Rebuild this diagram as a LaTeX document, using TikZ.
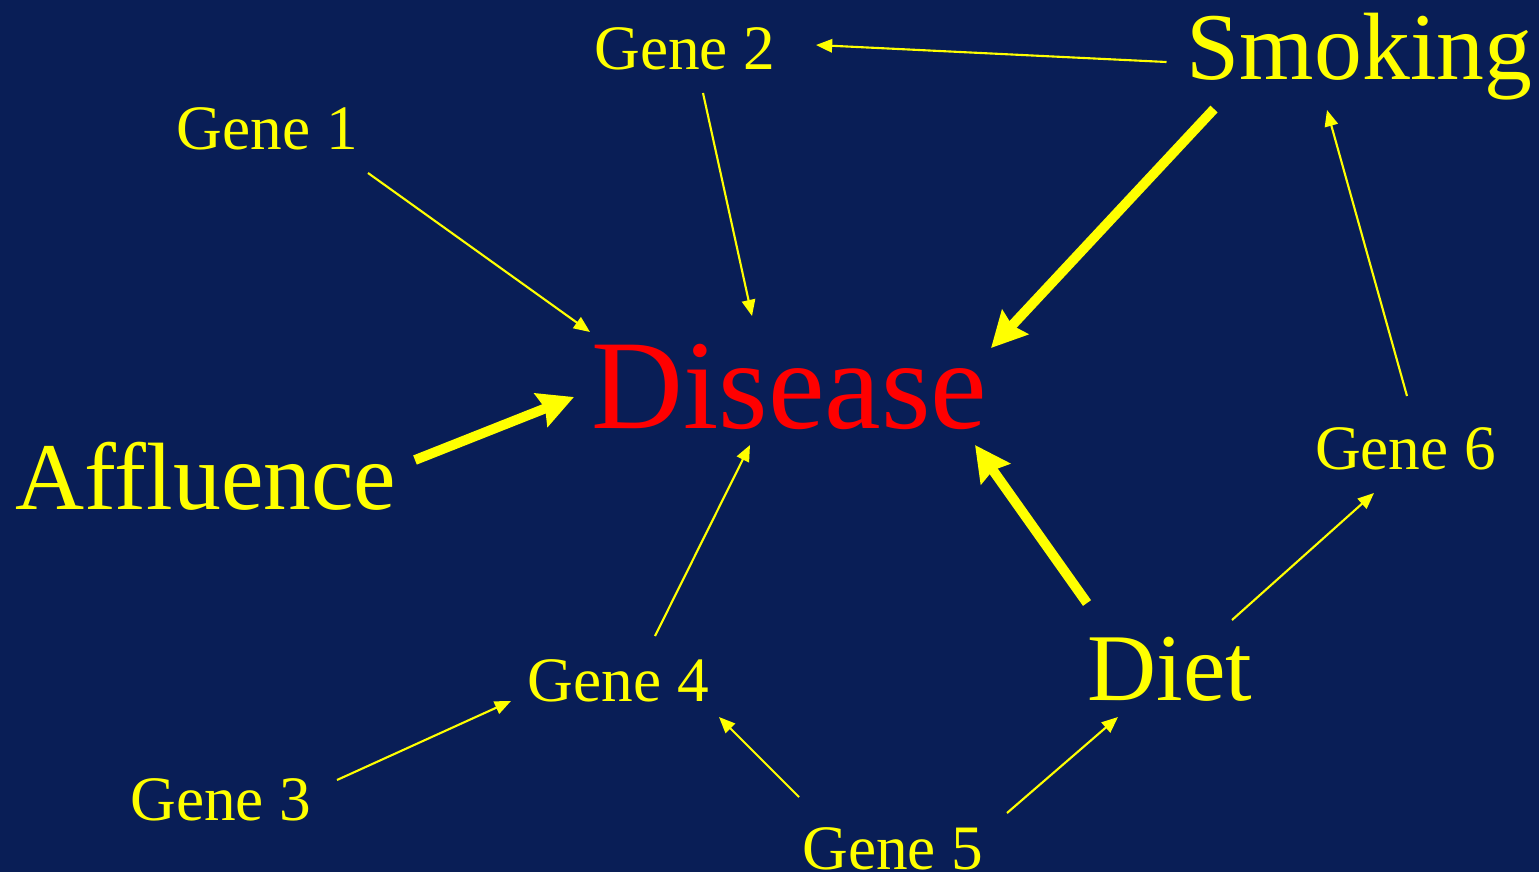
\documentclass[tikz,border=0pt]{standalone}
\usepackage{fontspec}
\setmainfont{Liberation Serif}
\usetikzlibrary{arrows.meta,calc}
\definecolor{slidebg}{RGB}{9,30,86}
\definecolor{causeyel}{RGB}{255,255,0}
\definecolor{diseasered}{RGB}{255,0,0}
\tikzset{
  genelbl/.style={anchor=base, inner sep=0pt, text=causeyel, font=\fontsize{18pt}{22pt}\selectfont},
  factorlbl/.style={anchor=base, inner sep=0pt, text=causeyel, font=\fontsize{27.2pt}{33pt}\selectfont},
  outcomelbl/.style={anchor=base, inner sep=0pt, text=diseasered, font=\fontsize{36.2pt}{43pt}\selectfont},
  thinarr/.style={-{Triangle[length=4.6pt,width=3.8pt]}, line width=0.6pt, causeyel},
  thickarr/.style={-{Stealth[length=10pt,width=10pt,inset=1.2pt]}, line width=2.8pt, causeyel},
}

\begin{document}
\begin{tikzpicture}[x=0.01cm, y=-0.01cm]
    \fill[slidebg] (0,0) rectangle (1539,872);
    \useasboundingbox (0,0) rectangle (1539,872);

    % outcome and environmental factors
    \node[outcomelbl] (disease) at (789.5,428) {Disease};
    \node[factorlbl] (smoking) at (1359.5,79) {Smoking};
    \node[factorlbl] (affluence) at (206,509) {Affluence};
    \node[factorlbl] (diet) at (1170,700) {Diet};

    % genes
    \node[genelbl] (gene1) at (267.5,149) {Gene 1};
    \node[genelbl] (gene2) at (685,69) {Gene 2};
    \node[genelbl] (gene3) at (221,820) {Gene 3};
    \node[genelbl] (gene4) at (618.5,701) {Gene 4};
    \node[genelbl] (gene5) at (893,869) {Gene 5};
    \node[genelbl] (gene6) at (1405.5,469) {Gene 6};

    % strong effects on disease
    \draw[thickarr] ($(smoking.base)+(-145.5,30)$) -- ($(disease.base)+(201.5,-80)$);
    \draw[thickarr] ($(affluence.base)+(209,-49)$) -- ($(disease.base)+(-215.5,-31)$);
    \draw[thickarr] ($(diet.base)+(-83,-97)$) -- ($(disease.base)+(185.5,17)$);

    % weak effects
    \draw[thinarr] ($(gene1.base)+(100.5,24)$) -- ($(disease.base)+(-199.5,-96)$);
    \draw[thinarr] ($(gene2.base)+(18,24)$) -- ($(disease.base)+(-37.5,-112)$);
    \draw[thinarr] ($(gene4.base)+(36.5,-65)$) -- ($(disease.base)+(-39.5,17)$);
    \draw[thinarr] ($(smoking.base)+(-193,-17)$) -- ($(gene2.base)+(131,-24)$);
    \draw[thinarr] ($(gene6.base)+(1.5,-73)$) -- ($(smoking.base)+(-32.5,31)$);
    \draw[thinarr] ($(gene3.base)+(116,-40)$) -- ($(gene4.base)+(-107.5,0)$);
    \draw[thinarr] ($(gene5.base)+(-94,-72)$) -- ($(gene4.base)+(100.5,16)$);
    \draw[thinarr] ($(gene5.base)+(114,-56)$) -- ($(diet.base)+(-52,17)$);
    \draw[thinarr] ($(diet.base)+(62,-80)$) -- ($(gene6.base)+(-31.5,24)$);
\end{tikzpicture}
\end{document}
